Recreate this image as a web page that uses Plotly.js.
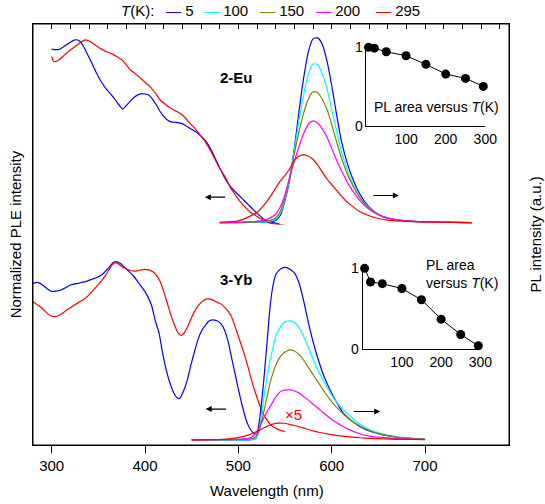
<!DOCTYPE html>
<html>
<head>
<meta charset="utf-8">
<script src="https://cdn.plot.ly/plotly-3.0.1.min.js"></script>
<style>html,body{margin:0;padding:0;background:#fff;}</style>
</head>
<body>
<div id="chart" style="width:545px;height:504px;"></div>
<script>
// ---------- data ----------
var tempLabels = ['5', '100', '150', '200', '295'];
var tempColors = ['#0000ff', '#00ffff', '#808000', '#ff00ff', '#ff0000'];

// 2-Eu (top panel) PLE, nm
var euPleBlueX = [300,304,308,312,316,320,325,330,334,338,343,348,353,359,364,368,372,376,380,384,389,395,400,404,408,412,416,420,424,428,433,438,443,448,452,456,460,465,470,475,480,485,490,495,500,505,510,516,522,527,532,538,545,550,555];
var euPleBlueY = [0.935,0.932,0.933,0.945,0.958,0.972,0.985,0.978,0.95,0.91,0.86,0.806,0.76,0.716,0.688,0.662,0.635,0.612,0.632,0.653,0.678,0.694,0.693,0.688,0.665,0.635,0.6,0.572,0.553,0.543,0.54,0.536,0.525,0.509,0.497,0.484,0.465,0.44,0.40,0.35,0.295,0.245,0.205,0.175,0.15,0.125,0.1,0.07,0.042,0.02,0.008,0.0,-0.01,-0.015,-0.018];
var euPleRedX = [300,302,305,308,312,316,320,324,328,332,336,340,345,350,355,360,366,371,375,380,384,390,395,400,405,410,416,421,427,432,437,443,448,453,459,464,470,475,480,486,491,496,502,507,512,518,523,528,534,540,545];
var euPleRedY = [0.895,0.87,0.868,0.878,0.895,0.914,0.93,0.945,0.96,0.975,0.985,0.978,0.962,0.945,0.93,0.918,0.905,0.89,0.878,0.85,0.824,0.8,0.779,0.757,0.734,0.705,0.662,0.64,0.617,0.604,0.59,0.565,0.536,0.51,0.473,0.44,0.39,0.34,0.293,0.245,0.194,0.155,0.113,0.085,0.059,0.04,0.024,0.012,-0.003,-0.008,-0.01];

// 2-Eu PL spectra
var euPlX = [480,500,520,530,540,545,550,555,560,565,570,575,580,585,590,595,600,605,610,615,620,630,640,650,660,680,700,730,750];
var euPl5   = [0,0,0.002,0.004,0.012,0.04,0.12,0.23,0.40,0.60,0.78,0.92,0.99,0.995,0.96,0.87,0.74,0.59,0.45,0.35,0.27,0.155,0.085,0.045,0.025,0.009,0.004,0.001,0];
var euPl100 = [0,0,0.002,0.005,0.018,0.05,0.13,0.24,0.39,0.55,0.69,0.80,0.855,0.85,0.80,0.72,0.61,0.50,0.39,0.31,0.24,0.14,0.08,0.043,0.024,0.009,0.004,0.001,0];
var euPl150 = [0,0.001,0.004,0.008,0.025,0.06,0.14,0.245,0.37,0.49,0.59,0.665,0.705,0.70,0.665,0.61,0.53,0.44,0.355,0.285,0.225,0.135,0.078,0.043,0.024,0.009,0.004,0.001,0];
var euPl200 = [0,0.002,0.008,0.017,0.045,0.085,0.15,0.245,0.33,0.41,0.48,0.53,0.548,0.535,0.505,0.46,0.40,0.34,0.285,0.235,0.19,0.12,0.072,0.042,0.024,0.009,0.004,0.001,0];
var euPl295 = [0.002,0.009,0.055,0.11,0.185,0.225,0.255,0.29,0.335,0.358,0.365,0.358,0.34,0.31,0.272,0.235,0.205,0.175,0.145,0.118,0.097,0.06,0.037,0.022,0.014,0.007,0.004,0.001,0];

// 3-Yb (bottom panel) PLE
var ybPleBlueX = [280,284,288,292,296,300,305,310,315,320,326,332,338,344,349,354,359,363,366,368,371,374,378,383,388,393,398,403,407,411,415,419,423,427,431,434,437,441,445,449,453,457,461,465,469,473,477,481,485,489,493,497,501,505,509,513,516,518];
var ybPleBlueY = [0.905,0.912,0.905,0.89,0.872,0.86,0.862,0.868,0.882,0.897,0.905,0.912,0.92,0.932,0.942,0.958,0.984,1.01,1.028,1.032,1.03,1.02,1.0,0.975,0.948,0.91,0.875,0.83,0.78,0.69,0.62,0.5,0.4,0.325,0.27,0.245,0.24,0.28,0.34,0.43,0.51,0.585,0.635,0.666,0.69,0.695,0.69,0.675,0.64,0.57,0.47,0.37,0.27,0.18,0.105,0.06,0.04,0.03];
var ybPleRedX = [280,284,288,292,296,300,304,308,313,318,324,330,336,342,348,353,358,362,365,368,371,375,380,385,390,395,400,404,408,412,416,420,424,428,432,436,439,442,446,450,455,460,465,470,476,482,488,492,496,500,505,510,515,520,525,530,535,540,545,550];
var ybPleRedY = [0.80,0.785,0.77,0.75,0.73,0.716,0.714,0.722,0.74,0.758,0.78,0.8,0.82,0.852,0.888,0.92,0.955,0.99,1.015,1.027,1.02,1.005,0.99,0.98,0.978,0.984,0.988,0.985,0.975,0.955,0.92,0.86,0.79,0.72,0.66,0.615,0.605,0.62,0.66,0.71,0.762,0.795,0.815,0.815,0.801,0.785,0.752,0.72,0.665,0.60,0.52,0.43,0.33,0.245,0.17,0.12,0.085,0.067,0.055,0.048];

// 3-Yb PL spectra (295 K curve shown x5)
var ybPlX = [450,470,490,505,512,516,519,522,525,528,531,534,537,540,544,548,552,556,560,565,570,575,580,586,592,598,605,612,620,630,642,655,670,685,700];
var ybPl5   = [0,0,0,0,0,0.002,0.01,0.09,0.22,0.39,0.58,0.77,0.89,0.955,0.985,0.998,0.998,0.985,0.968,0.91,0.805,0.68,0.57,0.458,0.365,0.292,0.22,0.158,0.117,0.078,0.048,0.029,0.015,0.008,0.004];
var ybPl100 = [0,0,0,0,0.001,0.004,0.01,0.04,0.15,0.27,0.37,0.463,0.53,0.6,0.645,0.676,0.687,0.689,0.68,0.65,0.597,0.535,0.468,0.395,0.335,0.276,0.22,0.176,0.135,0.091,0.055,0.033,0.018,0.009,0.005];
var ybPl150 = [0,0,0.001,0.002,0.005,0.01,0.02,0.05,0.11,0.18,0.255,0.33,0.385,0.43,0.475,0.5,0.515,0.521,0.515,0.495,0.462,0.42,0.378,0.33,0.28,0.235,0.19,0.152,0.115,0.08,0.05,0.03,0.016,0.008,0.004];
var ybPl200 = [0,0.001,0.002,0.005,0.01,0.022,0.04,0.068,0.1,0.135,0.165,0.193,0.22,0.248,0.275,0.287,0.29,0.289,0.283,0.271,0.25,0.23,0.207,0.18,0.153,0.127,0.1,0.077,0.056,0.035,0.02,0.013,0.007,0.004,0.002];
var ybPl295 = [0,0.001,0.006,0.019,0.03,0.04,0.047,0.055,0.063,0.071,0.078,0.086,0.091,0.095,0.097,0.096,0.093,0.088,0.083,0.076,0.068,0.06,0.052,0.044,0.038,0.032,0.026,0.021,0.017,0.012,0.008,0.005,0.003,0.002,0.001];

// insets: PL area versus T
var insetT = [5, 20, 50, 100, 150, 200, 250, 295];
var euArea = [1.0, 0.99, 0.944, 0.893, 0.783, 0.659, 0.604, 0.502];
var ybArea = [1.0, 0.83, 0.81, 0.75, 0.61, 0.37, 0.18, 0.04];

// ---------- traces ----------
var traces = [];
function line(x, y, color, xa, ya, nm) {
  return {x: x, y: y, type: 'scatter', mode: 'lines', xaxis: xa, yaxis: ya, name: nm || '',
          line: {color: color, width: 1.2, shape: 'spline', smoothing: 0.6}};
}
var euPl = [euPl5, euPl100, euPl150, euPl200, euPl295];
var ybPl = [ybPl5, ybPl100, ybPl150, ybPl200, ybPl295];
traces.push(line(euPleBlueX, euPleBlueY, tempColors[0], 'x2', 'y2', 'PLE 5 K'));
traces.push(line(euPleRedX, euPleRedY, tempColors[4], 'x2', 'y2', 'PLE 295 K'));
for (var i = 0; i < 5; i++) traces.push(line(euPlX, euPl[i], tempColors[i], 'x2', 'y2', tempLabels[i] + ' K'));
traces.push(line(ybPleBlueX, ybPleBlueY, tempColors[0], 'x', 'y', 'PLE 5 K'));
traces.push(line(ybPleRedX, ybPleRedY, tempColors[4], 'x', 'y', 'PLE 295 K'));
for (var j = 0; j < 5; j++) traces.push(line(ybPlX, ybPl[j], tempColors[j], 'x', 'y', tempLabels[j] + ' K'));
traces.push({x: insetT, y: euArea, type: 'scatter', mode: 'lines+markers', xaxis: 'x3', yaxis: 'y3',
  line: {color: 'black', width: 1}, marker: {color: 'black', size: 9}, cliponaxis: false});
traces.push({x: insetT, y: ybArea, type: 'scatter', mode: 'lines+markers', xaxis: 'x4', yaxis: 'y4',
  line: {color: 'black', width: 1}, marker: {color: 'black', size: 9}, cliponaxis: false});

// ---------- layout ----------
var split = 0.5238;
var topTicks = [];
for (var w = 300; w <= 780; w += 20) topTicks.push(w);
function inset(extra) {
  var o = {showline: true, linecolor: 'black', ticks: '', showgrid: false, zeroline: false, tickfont: {size: 14}};
  for (var k in extra) o[k] = extra[k];
  return o;
}
var legendX = [0.2742, 0.3550, 0.4737, 0.5903, 0.7164];
var annotations = [
  {text: '<i>T</i>(K):', xref: 'paper', yref: 'paper', x: 0.1807, y: 1.033, xanchor: 'left', yanchor: 'middle', showarrow: false}
];
for (var m = 0; m < 5; m++) {
  annotations.push({text: '<span style="color:' + tempColors[m] + '">—</span> ' + tempLabels[m],
    xref: 'paper', yref: 'paper', x: legendX[m], y: 1.033, xanchor: 'left', yanchor: 'middle', showarrow: false});
}
annotations = annotations.concat([
  {text: 'Normalized PLE intensity', xref: 'paper', yref: 'paper', x: -0.036, y: 0.5, xanchor: 'center', yanchor: 'middle',
   textangle: -90, showarrow: false},
  {text: 'PL intensity (a.u.)', xref: 'paper', yref: 'paper', x: 1.0567, y: 0.5, xanchor: 'center', yanchor: 'middle',
   textangle: -90, showarrow: false},
  {text: 'Wavelength (nm)', xref: 'paper', yref: 'paper', x: 0.4916, y: -0.109, xanchor: 'center', yanchor: 'middle',
   showarrow: false},
  {text: '<b>2-Eu</b>', xref: 'x2', yref: 'y2', x: 498, y: 0.784, showarrow: false},
  {text: '<b>3-Yb</b>', xref: 'x', yref: 'y', x: 498, y: 0.93, showarrow: false},
  {text: '×5', xref: 'x', yref: 'y', x: 559, y: 0.145, showarrow: false, font: {color: '#ff0000'}},
  {text: '', xref: 'x2', yref: 'y2', x: 464, y: 0.137, ax: 22, ay: 0, showarrow: true, arrowhead: 2, arrowsize: 1, arrowwidth: 1.2, arrowcolor: 'black'},
  {text: '', xref: 'x2', yref: 'y2', x: 672, y: 0.146, ax: -27, ay: 0, showarrow: true, arrowhead: 2, arrowsize: 1, arrowwidth: 1.2, arrowcolor: 'black'},
  {text: '', xref: 'x', yref: 'y', x: 465, y: 0.178, ax: 22, ay: 0, showarrow: true, arrowhead: 2, arrowsize: 1, arrowwidth: 1.2, arrowcolor: 'black'},
  {text: '', xref: 'x', yref: 'y', x: 652, y: 0.164, ax: -28, ay: 0, showarrow: true, arrowhead: 2, arrowsize: 1, arrowwidth: 1.2, arrowcolor: 'black'},
  {text: 'PL area versus <i>T</i>(K)', xref: 'x3', yref: 'y3', x: 178, y: 0.242, showarrow: false, font: {size: 14}},
  {text: 'PL area<br>versus <i>T</i>(K)', xref: 'x4', yref: 'y4', x: 156, y: 0.93, xanchor: 'left',
   align: 'left', showarrow: false, font: {size: 14}}
]);

var layout = {
  width: 545, height: 504, showlegend: false,
  margin: {l: 33, r: 36, t: 24, b: 59, pad: 0, autoexpand: false},
  paper_bgcolor: 'white', plot_bgcolor: 'rgba(0,0,0,0)',
  font: {family: 'Liberation Sans', size: 15, color: '#000'},
  xaxis: {domain: [0, 1], range: [280, 790], anchor: 'y', tickvals: [300, 400, 500, 600, 700],
          ticks: 'outside', ticklen: 7, tickcolor: 'black', showline: true, linecolor: 'black',
          showgrid: false, zeroline: false},
  xaxis2: {domain: [0, 1], range: [280, 790], anchor: 'y2', side: 'top', tickvals: topTicks,
           ticks: 'inside', ticklen: 5, tickcolor: 'black', showticklabels: false,
           showgrid: false, zeroline: false, showline: true, linecolor: 'black'},
  yaxis: {domain: [0, split], range: [-0.03, 1.248], anchor: 'x', tickvals: [1.248], ticks: 'inside',
          ticklen: 12, tickcolor: 'black', showticklabels: false, mirror: 'ticks', showline: true,
          linecolor: 'black', showgrid: false, zeroline: false},
  yaxis2: {domain: [split, 1], range: [-0.01, 1.07], anchor: 'x2', showticklabels: false,
           showgrid: false, zeroline: false, showline: true, mirror: true, linecolor: 'black'},
  xaxis3: inset({domain: [0.7006, 0.9502], range: [0, 300], anchor: 'y3', tickvals: [100, 200, 300]}),
  yaxis3: inset({domain: [0.7584, 0.9501], range: [0, 1.03], anchor: 'x3', tickvals: [0, 1]}),
  xaxis4: inset({domain: [0.6926, 0.9397], range: [0, 300], anchor: 'y4', tickvals: [100, 200, 300]}),
  yaxis4: inset({domain: [0.228, 0.4235], range: [0, 1.02], anchor: 'x4', tickvals: [0, 1]}),
  shapes: [
    {type: 'line', xref: 'paper', yref: 'paper', x0: 0, x1: 1, y0: 1, y1: 1, line: {color: 'black', width: 1}},
    {type: 'line', xref: 'paper', yref: 'paper', x0: 0, x1: 1, y0: 0, y1: 0, line: {color: 'black', width: 1}},
    {type: 'line', xref: 'paper', yref: 'paper', x0: 0, x1: 0, y0: 0, y1: 1, line: {color: 'black', width: 1}},
    {type: 'line', xref: 'paper', yref: 'paper', x0: 1, x1: 1, y0: 0, y1: 1, line: {color: 'black', width: 1}}
  ],
  annotations: annotations
};

Plotly.newPlot('chart', traces, layout, {staticPlot: true});
</script>
</body>
</html>
